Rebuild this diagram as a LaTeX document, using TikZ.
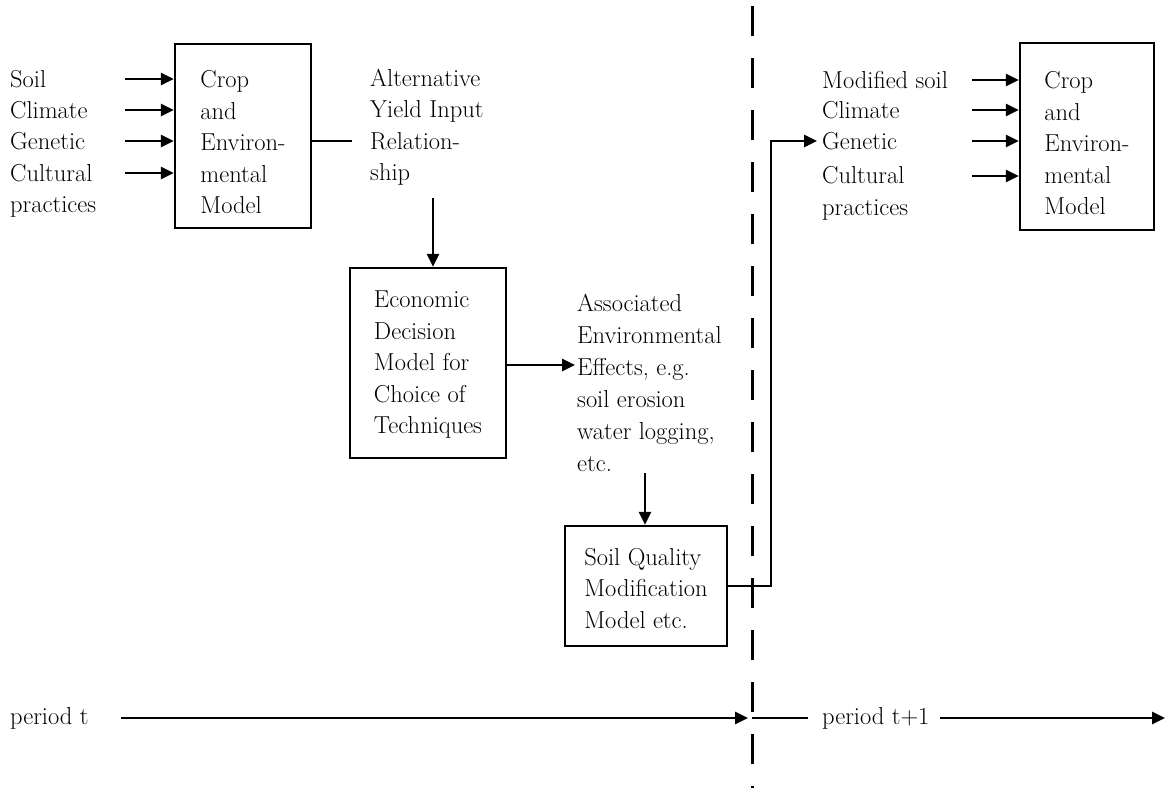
\documentclass[tikz,border=0pt]{standalone}
\usetikzlibrary{arrows.meta}
\begin{document}
\begin{tikzpicture}[x=1pt,y=-1pt,
  txt/.style={font=\fontsize{24.5}{31.5}\selectfont, inner sep=0pt},
  lbl/.style={txt, anchor=west},
  ml/.style={txt, align=left, anchor=north west},
  boxnode/.style={draw, line width=2.2pt, txt, align=left},
  con/.style={line width=2.6pt},
  arr/.style={con, -{Triangle[length=13pt,width=12pt]}},
  divider/.style={line width=3pt, dash pattern=on 30pt off 22pt}]
\useasboundingbox (0,0) rectangle (1167,788);

% boxes
\node[boxnode, minimum width=136pt, minimum height=184pt] (box1) at (243,136) {\rule{0pt}{30pt}Crop\\and\\Environ-\\mental\\Model};
\node[boxnode, minimum width=156pt, minimum height=190pt] (box2) at (428,363) {\rule{0pt}{20pt}Economic\\Decision\\Model for\\Choice of\\Techniques};
\node[boxnode, minimum width=162pt, minimum height=120pt] (box3) at (646,586) {\rule{0pt}{22pt}Soil Quality\\Modification\\Model etc.};
\node[boxnode, minimum width=134pt, minimum height=187pt] (box4) at (1087,136.5) {\rule{0pt}{31pt}Crop\\and\\Environ-\\mental\\Model};

% left inputs
\node[lbl] (soil1) at (10,79) {Soil};
\node[lbl] (clim1) at (10,110) {Climate};
\node[lbl] (gen1) at (10,141) {Genetic};
\node[ml] (cult1) at (10,164) {Cultural\\practices};
\coordinate (s1) at (125,79);
\coordinate (s2) at (125,110);
\coordinate (s3) at (125,141);
\coordinate (s4) at (125,173);
\foreach \c in {s1,s2,s3,s4} \draw[arr] (\c) -- (\c -| box1.west);

% alternative relationship
\node[ml] (alt) at (370,68.5) {Alternative\\Yield Input\\Relation-\\ship};
\coordinate (a0) at (352,141);
\draw[con] (a0 -| box1.east) -- (a0);
\coordinate (d1) at (433,198);
\draw[arr] (d1) -- (d1 |- box2.north);

% associated effects
\node[ml, font=\fontsize{24.5}{32}\selectfont] (assoc) at (577,293.5) {Associated\\Environmental\\Effects, e.g.\\soil erosion\\water logging,\\etc.};
\coordinate (a2) at (575,365);
\draw[arr] (a2 -| box2.east) -- (a2);
\coordinate (d2) at (645,473);
\draw[arr] (d2) -- (d2 |- box3.north);

% right inputs
\node[lbl] (soil2) at (822,80) {Modified soil};
\node[lbl] (clim2) at (822,110) {Climate};
\node[lbl] (gen2) at (822,141) {Genetic};
\node[ml] (cult2) at (822,166.5) {Cultural\\practices};
\coordinate (r1) at (972,80);
\coordinate (r2) at (972,110);
\coordinate (r3) at (972,141);
\coordinate (r4) at (972,176);
\foreach \c in {r1,r2,r3,r4} \draw[arr] (\c) -- (\c -| box4.west);

% feedback connector
\coordinate (turn) at (771,141);
\draw[arr, shorten >=5pt] (box3.east) -| (turn) -- (gen2.west);

% divider
\coordinate (dtop) at (752,6);
\coordinate (dbot) at (752,788);
\draw[divider] (dtop) -- (dbot);

% periods
\node[lbl] (pt) at (10,718) {period t};
\node[lbl] (pt1) at (822,718) {period t+1};
\coordinate (pmid) at (748,718);
\coordinate (pend) at (1165,718);
\draw[arr, shorten <=32pt] (pt.east) -- (pmid);
\draw[con, shorten >=14pt] (pmid -| dtop) -- (pt1.west);
\draw[arr, shorten <=10pt] (pt1.east) -- (pend);
\end{tikzpicture}
\end{document}
